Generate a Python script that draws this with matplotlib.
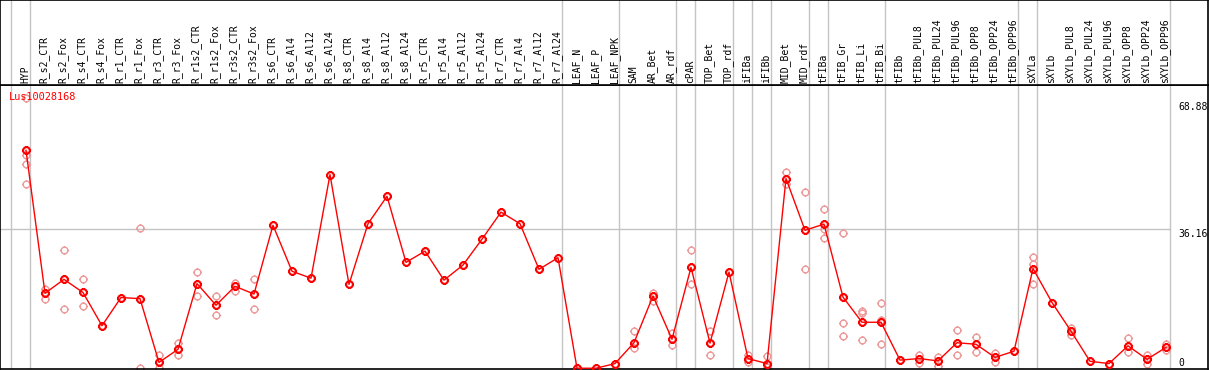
import numpy as np
import matplotlib
matplotlib.use("Agg")
import matplotlib.pyplot as plt
from matplotlib.path import Path

gene = "Lus10028168"

samples = [
    "HYP", "R_s2_CTR", "R_s2_Fox", "R_s4_CTR", "R_s4_Fox", "R_r1_CTR", "R_r1_Fox",
    "R_r3_CTR", "R_r3_Fox", "R_r1s2_CTR", "R_r1s2_Fox", "R_r3s2_CTR", "R_r3s2_Fox",
    "R_s6_CTR", "R_s6_Al4", "R_s6_Al12", "R_s6_Al24", "R_s8_CTR", "R_s8_Al4",
    "R_s8_Al12", "R_s8_Al24", "R_r5_CTR", "R_r5_Al4", "R_r5_Al12", "R_r5_Al24",
    "R_r7_CTR", "R_r7_Al4", "R_r7_Al12", "R_r7_Al24", "LEAF_N", "LEAF_P", "LEAF_NPK",
    "SAM", "AR_Bet", "AR_rdf", "cPAR", "TOP_Bet", "TOP_rdf", "iFIBa", "iFIBb",
    "MID_Bet", "MID_rdf", "tFIBa", "tFIB_Gr", "tFIB_Li", "tFIB_Bi", "tFIBb",
    "tFIBb_PUL8", "tFIBb_PUL24", "tFIBb_PUL96", "tFIBb_OPP8", "tFIBb_OPP24",
    "tFIBb_OPP96", "sXYLa", "sXYLb", "sXYLb_PUL8", "sXYLb_PUL24", "sXYLb_PUL96",
    "sXYLb_OPP8", "sXYLb_OPP24", "sXYLb_OPP96",
]

# number of samples in each group (gray separators drawn after each group)
group_sizes = [1, 28, 3, 3, 1, 2, 1, 1, 2, 1, 3, 7, 1, 7]

mean_expr = [
    56.4, 19.4, 23.0, 19.6, 11.0, 18.3, 18.0, 1.5, 4.9, 21.9, 16.3, 21.2, 19.2,
    37.0, 25.1, 23.3, 50.1, 21.7, 37.4, 44.5, 27.4, 30.3, 22.8, 26.7, 33.4,
    40.4, 37.4, 25.6, 28.6, 0.0, 0.0, 1.2,
    6.6, 18.7, 7.5, 26.1, 6.5, 24.9, 2.5, 1.2, 49.1, 35.7, 37.3, 18.4, 11.9, 11.9,
    2.1, 2.5, 1.9, 6.6, 6.2, 2.8, 4.4, 25.8, 17.0, 9.6, 1.8, 1.2, 5.8, 2.3, 5.4,
]

replicates = [
    [69.9, 55.1, 52.8, 47.8], [20.6, 18.0], [30.5, 15.4], [23.2, 16.0], [], [],
    [36.4, 0.0], [3.4, 0.0], [6.4, 3.5], [24.8, 18.7], [18.6, 13.9], [22.1, 19.9],
    [23.0, 15.4],
    [], [], [], [], [], [], [], [], [], [], [], [], [], [], [], [], [], [], [],
    [9.6, 5.3], [19.5, 17.3], [9.1, 6.1], [30.5, 21.7], [9.7, 3.3], [],
    [3.4, 1.6], [3.1, 0.2], [50.8, 47.8], [45.5, 25.6], [41.3, 36.0, 33.6],
    [35.0, 11.6, 8.3], [14.9, 14.3, 7.2], [16.8, 12.4, 6.2],
    [], [3.5, 1.4], [2.9, 0.5], [10.0, 3.4], [8.0, 4.1], [4.0, 1.7], [],
    [28.7, 27.1, 21.7], [], [10.4, 8.7], [], [], [7.8, 4.3], [3.5, 1.1], [6.3, 4.7],
]

scale_labels = [0, 36.16, 68.88]

# circle marker with four small ticks
circ = Path.unit_circle()
ticks = [Path([(0, 1.0), (0, 1.35)]), Path([(0, -1.0), (0, -1.35)]),
         Path([(1.0, 0), (1.35, 0)]), Path([(-1.0, 0), (-1.35, 0)])]
gear = Path.make_compound_path(circ, *ticks)

W, H = 1209, 370
fig = plt.figure(figsize=(W / 100, H / 100), dpi=100)
x = np.arange(len(samples))
px = 19.0
x0 = 26.0
xlim = (-x0 / px, (1208 - x0) / px)

# plot area
top_px, bot_px = 85, 369
ax = fig.add_axes([0, (H - bot_px) / H, 1208 / W, (bot_px - top_px) / H])
ax.set_xlim(*xlim)
ax.set_ylim(-0.2, 73.3)
for s in ax.spines.values():
    s.set_color("black")
    s.set_linewidth(1.2)
ax.set_xticks([])
ax.set_yticks([])

bounds = np.cumsum([0] + group_sizes) - 0.78
for b in bounds:
    ax.axvline(b, color="#c4c4c4", lw=1.0, zorder=1)
ax.plot([xlim[0], bounds[-1]], [scale_labels[1]] * 2, color="#c4c4c4", lw=1.0, zorder=1)

for i, reps in enumerate(replicates):
    if reps:
        ax.plot([i] * len(reps), reps, linestyle="none", marker=gear, ms=6.5,
                mfc="none", mec="#ec9a9a", mew=1.0, zorder=2)
ax.plot(x, mean_expr, color="#ff0000", lw=1.0, marker=gear, ms=6.5,
        mfc="none", mec="#ff0000", mew=1.5, zorder=3)

ax.text(9 / 1208, 0.958, gene, transform=ax.transAxes, color="#ff0000",
        family="DejaVu Sans Mono", fontsize=7.4, va="center", ha="left")

lab_x = (1178 - x0) / px
ax.text(lab_x, scale_labels[0], f"{scale_labels[0]:g}", family="DejaVu Sans Mono",
        fontsize=7, va="bottom", ha="left")
for v in scale_labels[1:]:
    ax.text(lab_x, v, f"{v:.2f}", family="DejaVu Sans Mono", fontsize=7,
            va="top", ha="left")

# header with sample names
hx = fig.add_axes([0, (H - top_px) / H, 1208 / W, top_px / H])
hx.set_xlim(*xlim)
hx.set_ylim(0, top_px)
for s in hx.spines.values():
    s.set_color("black")
    s.set_linewidth(1.2)
hx.set_xticks([])
hx.set_yticks([])
for b in bounds:
    hx.axvline(b, color="#c4c4c4", lw=1.0, zorder=1)
for i, name in enumerate(samples):
    hx.text(i - 0.05, 2, name, rotation=90, ha="center", va="bottom",
            family="DejaVu Sans Mono", fontsize=7)

fig.savefig("out.png", dpi=100)
